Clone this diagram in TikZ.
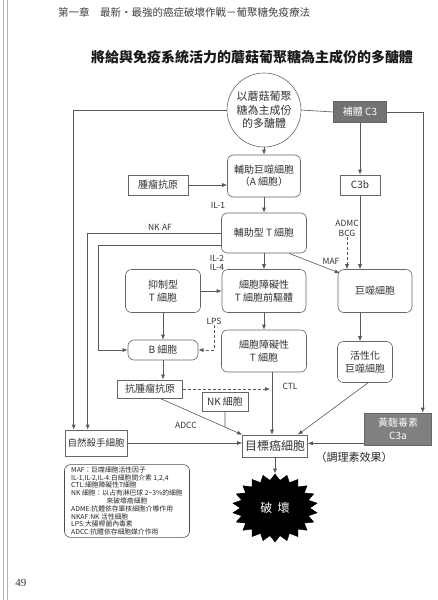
\documentclass[tikz,border=0pt]{standalone}
\usepackage{fontspec}
\setmainfont{Noto Sans CJK TC}
\newfontfamily\pagefont{Liberation Serif}
\usetikzlibrary{shapes.geometric,arrows.meta}

\tikzstyle{cell}      = [draw=black!60, line width=0.6pt, fill=white, text=black!80, align=center, inner sep=1pt, font=\fontsize{10}{12.5}\selectfont]
\tikzstyle{roundcell} = [cell, rounded corners=6pt]
\tikzstyle{darkcell}  = [cell, fill=black!55, text=white]
\tikzstyle{tag}       = [text=black!80, inner sep=1pt, align=center, font=\fontsize{8.5}{10}\selectfont]
\tikzstyle{arrow}     = [draw=black!65, line width=0.6pt, -{Latex[length=5pt,width=4pt]}]
\tikzstyle{dasharrow} = [arrow, dash pattern=on 3pt off 2pt]
\tikzstyle{link}      = [draw=black!65, line width=0.6pt]

\begin{document}
\begin{tikzpicture}[x=1pt,y=-1pt]
        \useasboundingbox (0,0) rectangle (438,600);
        \fill[white] (0,0) rectangle (438,600);
        \draw[black!30, line width=0.8pt] (3,0) -- (3,600);
        \draw[black!30, line width=0.8pt] (7,0) -- (7,600);

        \node[text=black!75, font=\fontsize{10.5}{12}\selectfont] (header) at (184,12) {第一章　最新・最強的癌症破壞作戰－葡聚糖免疫療法};
        \node[text=black!90, font=\fontsize{14}{16}\selectfont\bfseries] (title) at (252,57) {將給與免疫系統活力的蘑菇葡聚糖為主成份的多醣體};
        \node[text=black!80, font=\pagefont\fontsize{11}{12}\selectfont] (pageno) at (21,583) {49};

        \node[cell, circle, minimum size=74pt, font=\fontsize{11}{13.5}\selectfont] (poly) at (264,110) {以蘑菇葡聚\\糖為主成份\\的多醣體};
        \node[darkcell, minimum width=53pt, minimum height=21pt] (compl) at (360,112) {補體 C3};
        \node[cell, minimum width=40pt, minimum height=20pt] (c3b) at (360,185) {C3b};
        \node[roundcell, minimum width=73pt, minimum height=42pt] (ahelper) at (264,176) {輔助巨噬細胞\\（A 細胞）};
        \node[cell, minimum width=60pt, minimum height=20pt] (tumorag) at (158,185) {腫瘤抗原};
        \node[roundcell, minimum width=85pt, minimum height=40pt] (helpert) at (264,233) {輔助型 T 細胞};
        \node[roundcell, minimum width=75pt, minimum height=43pt] (supt) at (163,291) {抑制型\\T 細胞};
        \node[roundcell, minimum width=84pt, minimum height=43pt] (ctlpre) at (264,291) {細胞障礙性\\T 細胞前驅體};
        \node[roundcell, minimum width=74pt, minimum height=43pt] (macro) at (375,291) {巨噬細胞};
        \node[roundcell, minimum width=70pt, minimum height=20pt] (bcell) at (163,350) {B 細胞};
        \node[roundcell, minimum width=85pt, minimum height=42pt] (ctl) at (264,351) {細胞障礙性\\T 細胞};
        \node[roundcell, minimum width=55pt, minimum height=41pt] (actmac) at (365,362) {活性化\\巨噬細胞};
        \node[cell, line width=0.8pt, minimum width=65pt, minimum height=18pt] (antitumor) at (150,389) {抗腫瘤抗原};
        \node[cell, minimum width=46pt, minimum height=19pt] (nkcell) at (225,402) {NK 細胞};
        \node[cell, minimum width=62pt, minimum height=26pt, font=\fontsize{9.5}{11}\selectfont] (natkill) at (96,443) {自然殺手細胞};
        \node[cell, minimum width=65pt, minimum height=22pt, font=\fontsize{12}{14}\selectfont] (target) at (275,446) {目標癌細胞};
        \node[darkcell, fill=black!50, minimum width=67pt, minimum height=32pt] (aflatox) at (398,429) {黃麴毒素\\C3a};
        \node[star, star points=22, star point ratio=1.22, minimum size=68pt, fill=black, draw=black, xscale=1.25, transform shape] (burst) at (275,508) {};
        \node[text=white, font=\fontsize{12}{14}\selectfont] (bursttext) at (burst) {破\ \ 壞};

        \node[draw=black!70, line width=0.6pt, rounded corners=6pt, align=left, inner sep=2pt, text=black!85, minimum width=125pt, minimum height=72pt, font=\fontsize{6.8}{7.8}\selectfont] (legend) at (127,501) {MAF：巨噬細胞活性因子\\IL-1,IL-2,IL-4:白細胞間介素 1,2,4\\CTL:細胞障礙性T細胞\\NK 細胞：以占有淋巴球 2\textasciitilde3\%的細胞\\\hspace*{5.2em}來破壞癌細胞\\ADME:抗體依存單核細胞介導作用\\NKAF:NK 活性細胞\\LPS:大腸桿菌內毒素\\ADCC:抗體依存細胞媒介作用};

        \node[tag] (il1) at (218,205) {IL-1};
        \node[tag] (nkaf) at (160,227) {NK$\cdot$AF};
        \node[tag, font=\fontsize{8.5}{9.5}\selectfont] (il24) at (217,263) {IL-2\\IL-4};
        \node[tag] (admc) at (347,228) {ADMC\\BCG};
        \node[tag] (maf) at (331,261) {MAF};
        \node[tag] (lps) at (214,321) {LPS};
        \node[tag] (ctltag) at (290,386) {CTL};
        \node[tag] (adcc) at (186,425) {ADCC};
        \node[text=black!85, inner sep=1pt, font=\fontsize{11}{13}\selectfont] (opsonin) at (354,457) {（調理素效果）};

        \coordinate (bturn) at (98,350);
        \coordinate (adccfrom) at ([xshift=10pt]antitumor.south);
        \coordinate (adccjoin) at (intersection of adccfrom--target.north west and nkcell.south--{nkcell.south |- target.north});

        \draw[link] (poly.east) -- (compl.west);
        \draw[arrow] (poly.west) -| ([xshift=9pt]natkill.north west);
        \draw[arrow] (compl.east) -| ([xshift=-9pt]aflatox.north east);
        \draw[arrow] (compl.south) -- (c3b.north);
        \draw[arrow] (c3b.south) -- (c3b.south |- macro.north);
        \draw[dasharrow] (admc.south) -- (admc.south |- macro.north);
        \draw[arrow] (poly.south) -- (ahelper.north);
        \draw[arrow] (tumorag.east) -- (tumorag.east -| ahelper.west);
        \draw[arrow] (ahelper.south) -- (helpert.north);
        \draw[arrow] (helpert.west) -| ([xshift=23pt]natkill.north west);
        \draw[arrow] ([yshift=-12pt]helpert.west) -| (bturn) -- (bcell.west);
        \draw[arrow] (helpert.south) -- (ctlpre.north);
        \draw[arrow] ([xshift=25pt]helpert.south) -- ([xshift=2pt,yshift=-4pt]macro.north west);
        \draw[arrow] (supt.east) -- (ctlpre.west);
        \draw[arrow] (supt.south) -- (bcell.north);
        \draw[dasharrow] (lps.south) |- (bcell.east);
        \draw[arrow] (ctlpre.south) -- (ctl.north);
        \draw[arrow] (bcell.south) -- (bcell.south |- antitumor.north);
        \draw[arrow] ([xshift=8pt]ctl.south) -- ([xshift=8pt]ctl.south |- target.north);
        \draw[dasharrow] (antitumor.east) -- ([xshift=6pt]ctl.south |- antitumor.east);
        \draw[arrow] (adccfrom) -- (target.north west);
        \draw[link] (nkcell.south) -- (adccjoin);
        \draw[arrow] ([xshift=-15pt]macro.south) -- ([xshift=-15pt]macro.south |- actmac.north);
        \draw[arrow] ([xshift=3pt]actmac.south) -- ([xshift=-10pt]target.north east);
        \draw[arrow] (natkill.east) -- (natkill.east -| target.west);
        \draw[arrow] ([yshift=2pt]aflatox.south west) -- ([yshift=2pt]aflatox.south west -| target.east);
        \draw[arrow] (target.south) -- (burst.north);
\end{tikzpicture}
\end{document}
